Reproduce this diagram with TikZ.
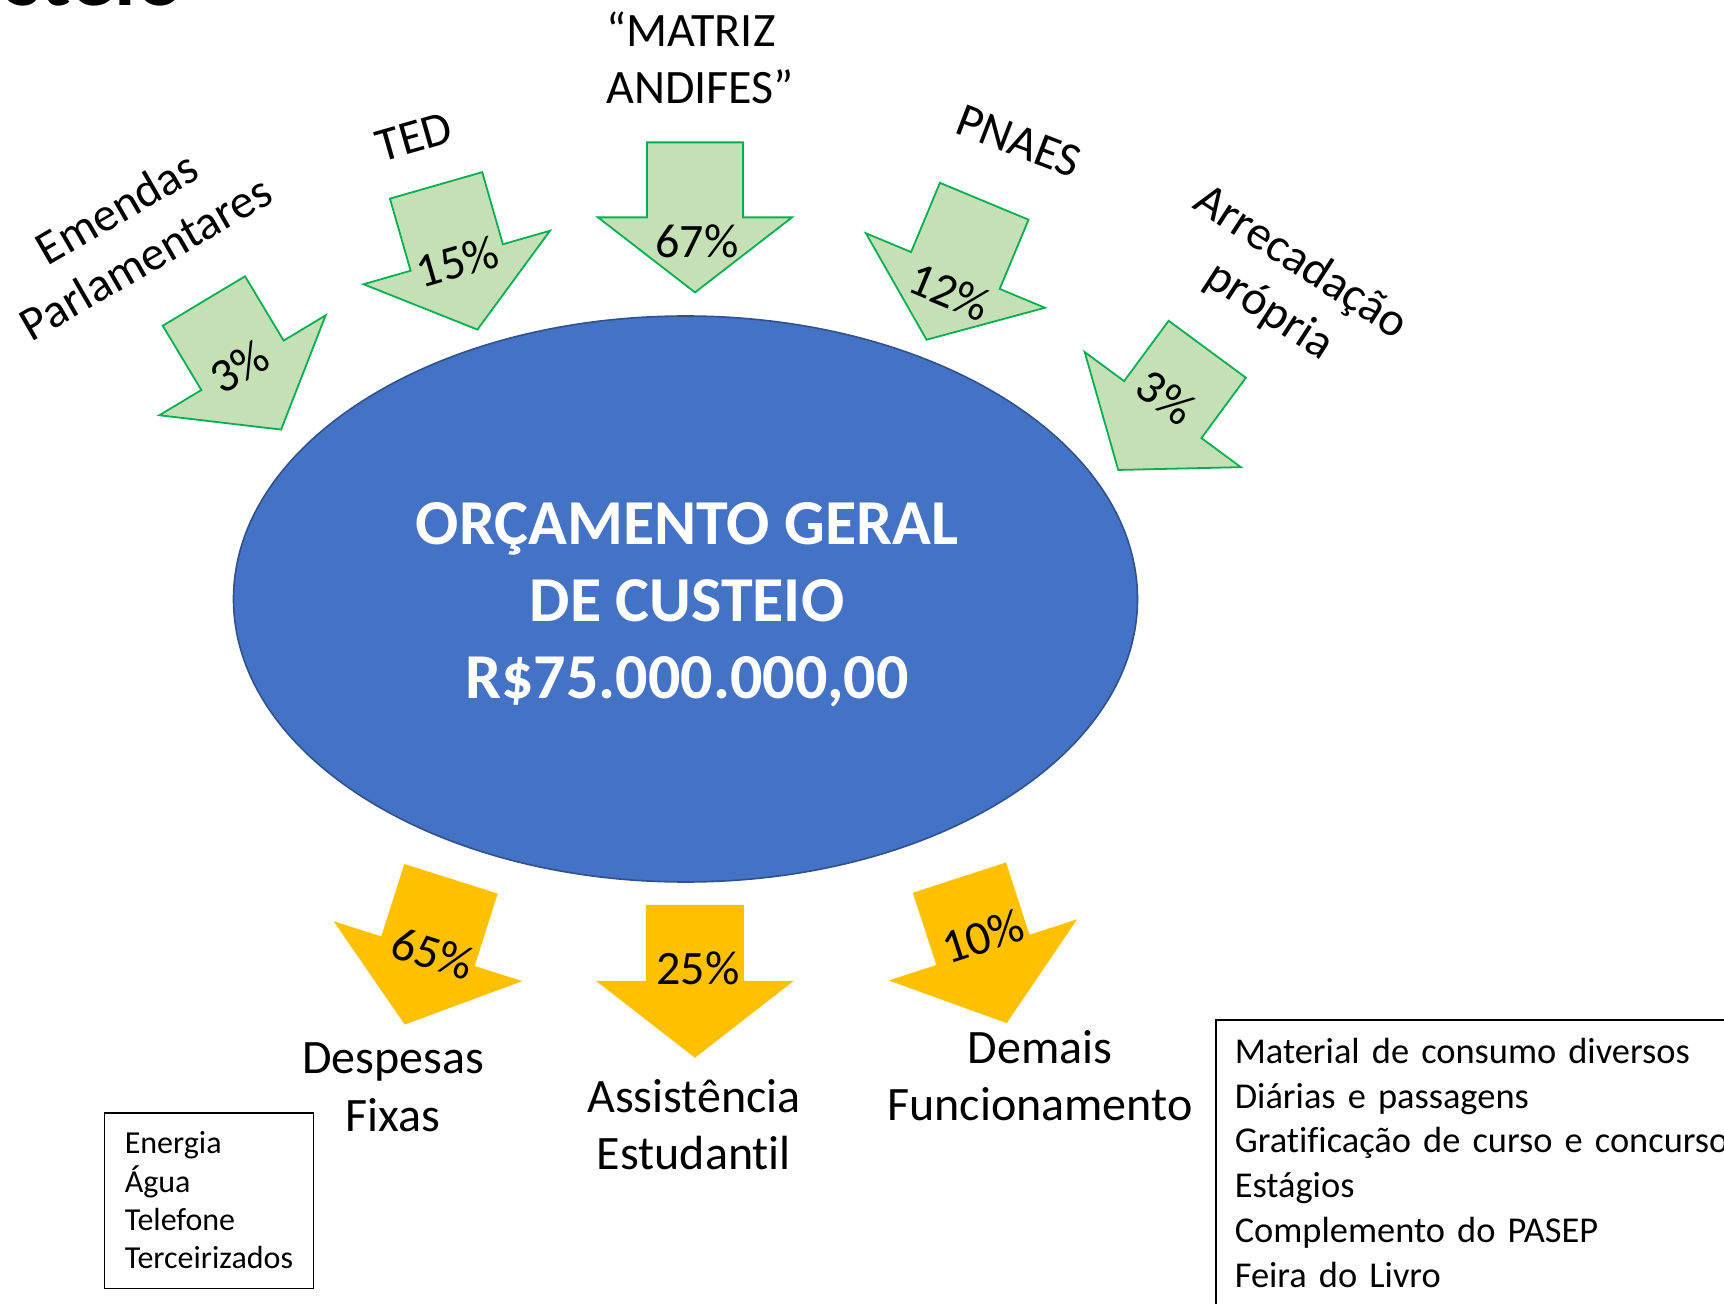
\documentclass[tikz,border=0pt]{standalone}
\usepackage{fontspec}
\setmainfont{Carlito}[Ligatures=NoCommon]
\usetikzlibrary{shapes.geometric}
\definecolor{gfill}{HTML}{C5E0B4}
\definecolor{gline}{HTML}{00B050}
\definecolor{ofill}{HTML}{FFC000}
\definecolor{bfill}{HTML}{4472C4}
\definecolor{bline}{HTML}{2F528F}
\tikzset{
  lbl/.style={font=\fontsize{24}{28.8}\selectfont, inner sep=0pt},
  greenarrow/.style={fill=gfill, draw=gline, line width=0.9pt, line join=miter},
  orangearrow/.style={fill=ofill},
  listbox/.style={draw=black, line width=0.8pt}
}
% #1 style, #2 x, #3 y, #4 rotation, #5 shaft half width, #6 head half width, #7 shaft length, #8 head length
\newcommand{\blockarrow}[8]{%
  \begin{scope}[shift={(#2,#3)}, rotate=#4]
    \path[#1] (-#5,-#7) -- (#5,-#7) -- (#5,0) -- (#6,0) -- (0,#8) -- (-#6,0) -- (-#5,0) -- cycle;
  \end{scope}}
\begin{document}
\begin{tikzpicture}[x=0.5pt,y=-0.5pt]
\useasboundingbox (0,0) rectangle (1724,1304);
\clip (0,0) rectangle (1724,1304);

% title (cut off at top)
\node (title) [font=\fontsize{44}{52.8}\bfseries\selectfont, anchor=base east, inner sep=0pt] at (184,5.5) {steio};

% central ellipse
\node (orc) [ellipse, fill=bfill, draw=bline, line width=0.8pt, minimum width=452pt, minimum height=283pt, inner sep=0pt] at (685.5,599) {};
\node (orctext) [font=\fontsize{32}{38.4}\bfseries\selectfont, text=white, align=center, inner sep=0pt] at (687,605) {ORÇAMENTO GERAL\\DE CUSTEIO\\R\$75.000.000,00};

% incoming (green) arrows
\blockarrow{greenarrow}{242.5}{365.3}{31}{48}{97}{75}{75}
\blockarrow{greenarrow}{456.75}{257.5}{16}{48}{97}{75}{75}
\blockarrow{greenarrow}{695}{217.4}{0}{48}{97}{75}{75}
\blockarrow{greenarrow}{955.4}{270.5}{-22.6}{48}{97}{75}{75}
\blockarrow{greenarrow}{1162.75}{409.6}{-36.4}{48}{97}{75}{75}

% outgoing (orange) arrows
\blockarrow{orangearrow}{428}{951.2}{-17.6}{49}{99}{76}{77}
\blockarrow{orangearrow}{694.9}{980.8}{0}{49}{99}{76}{77}
\blockarrow{orangearrow}{982.9}{949.9}{18}{49}{99}{76}{77}

% source labels
\node (lemendas) [lbl, rotate=30, align=center] at (131,232.5) {Emendas\\Parlamentares};
\node (lted) [lbl, rotate=16] at (414,137) {TED};
\node (lmatriz) [lbl, align=left] at (700,58) {“MATRIZ\\ANDIFES”};
\node (lpnaes) [lbl, rotate=-21] at (1019,141) {PNAES};
\node (larrec) [lbl, rotate=-33, align=center] at (1285,287) {Arrecadação\\própria};

% percentages
\node (p1) [lbl, rotate=31] at (239.2,366.7) {3\%};
\node (p2) [lbl, rotate=16] at (457.3,261.7) {15\%};
\node (p3) [lbl] at (697,241) {67\%};
\node (p4) [lbl, rotate=-22.6] at (949.5,291.7) {12\%};
\node (p5) [lbl, rotate=-36.4] at (1166,397) {3\%};
\node (p6) [lbl, rotate=-17.6] at (432.7,953.3) {65\%};
\node (p7) [lbl] at (698,968) {25\%};
\node (p8) [lbl, rotate=18] at (982.7,936.7) {10\%};

% destination labels
\node (ldesp) [lbl, align=center] at (393,1087) {Despesas\\Fixas};
\node (lassist) [lbl, align=center] at (694,1124.5) {Assistência\\Estudantil};
\node (ldemais) [lbl, align=center] at (1040,1075.5) {Demais\\Funcionamento};

% detail boxes
\node (fixbox) [listbox, minimum width=104.4pt, minimum height=87.8pt, align=left, inner sep=0pt, font=\fontsize{16}{19.2}\selectfont] at (208.9,1200.5) {Energia\\Água\\Telefone\\Terceirizados};
\node (demaisbox) [listbox, anchor=north west, text width=300pt, inner xsep=9.5pt, inner ysep=9pt, text depth=150pt, align=left, font=\fontsize{18.2}{22.4}\selectfont] at (1215,1019.3) {Material de consumo diversos\\Diárias e passagens\\Gratificação de curso e concurso\\Estágios\\Complemento do PASEP\\Feira do Livro};
\end{tikzpicture}
\end{document}
